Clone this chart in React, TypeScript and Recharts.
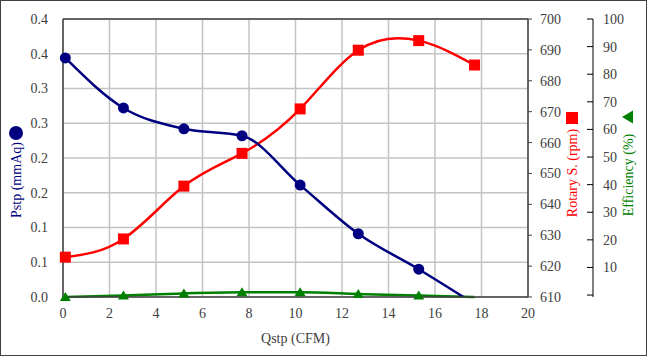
import React from "react";
import { CartesianGrid, ComposedChart, Line, ReferenceLine, XAxis, YAxis } from "recharts";

// values
const QSTP = [0.1, 2.6, 5.2, 7.7, 10.2, 12.7, 15.3, 17.7];
const PSTP = [0.344, 0.272, 0.242, 0.232, 0.161, 0.091, 0.04, -0.01];
const ROTARY = [622.9, 628.8, 645.9, 656.5, 670.9, 689.9, 693.0, 685.1];
const EFFICIENCY = [-0.7, -0.2, 0.6, 1.0, 1.0, 0.4, -0.2, -0.7];

const X_TICKS = [0, 2, 4, 6, 8, 10, 12, 14, 16, 18, 20];
const PSTP_TICKS = [0, 0.05, 0.1, 0.15, 0.2, 0.25, 0.3, 0.35, 0.4];
const PSTP_TICK_LABELS = ["0.0", "0.1", "0.1", "0.2", "0.2", "0.3", "0.3", "0.4", "0.4"];
const ROTARY_TICKS = [610, 620, 630, 640, 650, 660, 670, 680, 690, 700];
const EFF_TICKS = [0, 10, 20, 30, 40, 50, 60, 70, 80, 90, 100];

const NAVY = "#000080";
const RED = "#ff0000";
const GREEN = "#008000";
const INK = "#404040";
const FONT = "'Liberation Serif', 'Times New Roman', serif";

const data = QSTP.map((q, i) => ({
  q,
  pstp: PSTP[i],
  rpm: ROTARY[i],
  eff: EFFICIENCY[i]
}));

const tickStyle = { fill: INK, fontSize: 14, fontFamily: FONT };

const CircleDot = (props: any) => {
  const { cx, cy, index, payload } = props;
  if (cx == null || cy == null || payload.pstp < 0) return <g key={`c-${index}`} />;
  return <circle key={`c-${index}`} cx={cx} cy={cy} r={5.5} fill={NAVY} />;
};

const SquareDot = (props: any) => {
  const { cx, cy, index } = props;
  if (cx == null || cy == null) return <g key={`s-${index}`} />;
  return <rect key={`s-${index}`} x={cx - 5.5} y={cy - 5.5} width={11} height={11} fill={RED} />;
};

const TriangleDot = (props: any) => {
  const { cx, cy, index } = props;
  if (cx == null || cy == null || index === QSTP.length - 1) return <g key={`t-${index}`} />;
  return <polygon key={`t-${index}`} points={`${cx},${cy - 5} ${cx - 5.5},${cy + 4} ${cx + 5.5},${cy + 4}`} fill={GREEN} />;
};

// efficiency axis: tick marks point inward (left), labels on the right
const EffTick = (props: any) => {
  const { x, y, payload } = props;
  const axisX = x - 10;
  return (
    <g>
      <line x1={axisX - 6} y1={y} x2={axisX} y2={y} stroke="#000" strokeWidth={1} />
      {payload.value !== 0 && (
        <text x={x} y={y} dy="0.355em" textAnchor="start" {...tickStyle}>
          {payload.value}
        </text>
      )}
    </g>
  );
};

// rotated axis title with its series marker above it
const AxisTitle = (props: any) => {
  const { viewBox, dx, textDy, markDy, text, color, mark } = props;
  const x = viewBox.x + dx;
  const mid = viewBox.y + viewBox.height / 2;
  const ty = mid + textDy;
  const my = mid + markDy;
  let marker = null;
  if (mark === "circle") marker = <circle cx={x} cy={my} r={7} fill={color} />;
  if (mark === "square") marker = <rect x={x - 6} y={my - 6} width={12} height={12} fill={color} />;
  if (mark === "triangle") marker = <polygon points={`${x - 6},${my} ${x + 5},${my - 6.5} ${x + 5},${my + 6.5}`} fill={color} />;
  return (
    <g>
      {marker}
      <text
        x={x}
        y={ty}
        transform={`rotate(-90 ${x} ${ty})`}
        textAnchor="middle"
        dominantBaseline="central"
        fill={color}
        fontSize={14}
        fontFamily={FONT}
      >
        {text}
      </text>
    </g>
  );
};

const XTitle = (props: any) => {
  const { viewBox } = props;
  return (
    <text
      x={viewBox.x + viewBox.width / 2}
      y={viewBox.y + 41}
      textAnchor="middle"
      dominantBaseline="central"
      fill={INK}
      fontSize={14}
      fontFamily={FONT}
    >
      Qstp (CFM)
    </text>
  );
};

export default function App() {
  return (
    <div style={{ position: "absolute", left: 0, top: 0, width: 647, height: 356, background: "#fff" }}>
      <ComposedChart width={647} height={356} data={data} margin={{ top: 19, right: 0, bottom: 0, left: 0 }}>
        <CartesianGrid yAxisId="left" stroke="#c4c4c4" strokeWidth={1.5} />
        <XAxis
          dataKey="q"
          type="number"
          domain={[0, 20]}
          ticks={X_TICKS}
          interval={0}
          height={59}
          tick={tickStyle}
          tickLine={false}
          tickSize={5}
          tickMargin={6}
          axisLine={{ stroke: INK, strokeWidth: 1.5 }}
          label={<XTitle />}
        />
        <YAxis
          yAxisId="left"
          orientation="left"
          width={63}
          domain={[0, 0.4]}
          allowDataOverflow
          ticks={PSTP_TICKS}
          interval={0}
          tickFormatter={(_v: number, i: number) => PSTP_TICK_LABELS[i]}
          tick={tickStyle}
          tickLine={false}
          tickSize={5}
          tickMargin={10}
          axisLine={{ stroke: INK, strokeWidth: 1.5 }}
          label={<AxisTitle dx={16} textDy={22} markDy={-25} text="Pstp (mmAq)" color={NAVY} mark="circle" />}
        />
        <YAxis
          yAxisId="right1"
          orientation="right"
          width={65}
          domain={[610, 700]}
          ticks={ROTARY_TICKS}
          interval={0}
          tick={tickStyle}
          tickLine={{ stroke: INK }}
          tickSize={4}
          tickMargin={8}
          axisLine={{ stroke: INK, strokeWidth: 1.5 }}
          label={<AxisTitle dx={44} textDy={15} markDy={-40} text="Rotary S. (rpm)" color={RED} mark="square" />}
        />
        <YAxis
          yAxisId="right2"
          orientation="right"
          width={54}
          domain={[0, 100]}
          ticks={EFF_TICKS}
          interval={0}
          tick={<EffTick />}
          tickLine={false}
          tickSize={5}
          tickMargin={5}
          axisLine={{ stroke: "#808080", strokeWidth: 2 }}
          label={<AxisTitle dx={35} textDy={17} markDy={-41} text="Efficiency (%)" color={GREEN} mark="triangle" />}
        />
        <ReferenceLine yAxisId="left" y={0.4} stroke={INK} strokeWidth={1.5} />
        <Line
          yAxisId="right2"
          dataKey="eff"
          type="monotone"
          stroke={GREEN}
          strokeWidth={2.5}
          dot={TriangleDot}
          activeDot={false}
          isAnimationActive={false}
        />
        <Line
          yAxisId="right1"
          dataKey="rpm"
          type="natural"
          stroke={RED}
          strokeWidth={2.5}
          dot={SquareDot}
          activeDot={false}
          isAnimationActive={false}
        />
        <Line
          yAxisId="left"
          dataKey="pstp"
          type="monotone"
          stroke={NAVY}
          strokeWidth={2.5}
          dot={CircleDot}
          activeDot={false}
          isAnimationActive={false}
        />
      </ComposedChart>
      <div
        style={{
          position: "absolute",
          left: 0,
          top: 0,
          width: 647,
          height: 356,
          boxSizing: "border-box",
          border: `1.5px solid ${INK}`,
          pointerEvents: "none"
        }}
      />
    </div>
  );
}
